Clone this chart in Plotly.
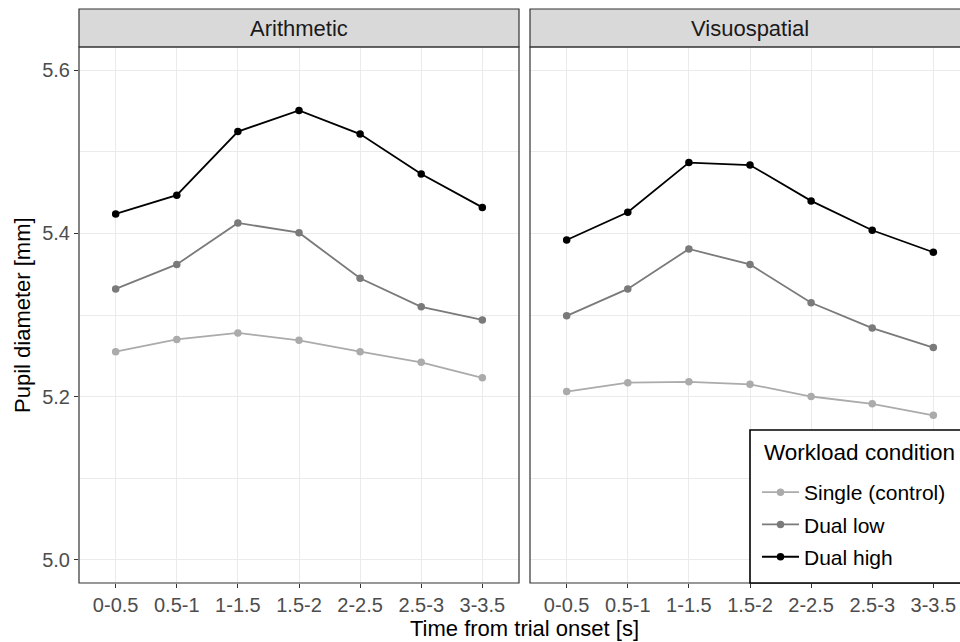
import plotly.graph_objects as go

time_bins = ["0-0.5", "0.5-1", "1-1.5", "1.5-2", "2-2.5", "2.5-3", "3-3.5"]
tasks = ["Arithmetic", "Visuospatial"]
conditions = ["Single (control)", "Dual low", "Dual high"]

arith_single = [5.255, 5.270, 5.278, 5.269, 5.255, 5.242, 5.223]
arith_dual_low = [5.332, 5.362, 5.413, 5.401, 5.345, 5.310, 5.294]
arith_dual_high = [5.424, 5.447, 5.525, 5.551, 5.522, 5.473, 5.432]
visuo_single = [5.206, 5.217, 5.218, 5.215, 5.200, 5.191, 5.177]
visuo_dual_low = [5.299, 5.332, 5.381, 5.362, 5.315, 5.284, 5.260]
visuo_dual_high = [5.392, 5.426, 5.487, 5.484, 5.440, 5.404, 5.377]

y_ticks = [5.0, 5.2, 5.4, 5.6]
y_tick_labels = ["5.0", "5.2", "5.4", "5.6"]
legend_title = "Workload condition"

colors = {"Single (control)": "#ababab", "Dual low": "#7a7a7a", "Dual high": "#000000"}

W, H = 960, 642
FONT = "Liberation Sans, Arial, sans-serif"


def fx(p):
    return p / W


def fy(p):
    return 1 - p / H


panel_top, panel_bot = 47, 583
strip_top = 9
left_x0, left_x1 = 79, 519
right_x0, right_x1 = 530, 970

fig = go.Figure()

series = {
    "Arithmetic": [arith_single, arith_dual_low, arith_dual_high],
    "Visuospatial": [visuo_single, visuo_dual_low, visuo_dual_high],
}

for ti, task in enumerate(tasks):
    xa = "x" if ti == 0 else "x2"
    ya = "y" if ti == 0 else "y2"
    for cond, vals in zip(conditions, series[task]):
        fig.add_trace(go.Scatter(
            x=time_bins, y=vals, mode="lines+markers", name=cond,
            legendgroup=cond, showlegend=(ti == 0),
            line=dict(color=colors[cond], width=1.8),
            marker=dict(color=colors[cond], size=7.5),
            xaxis=xa, yaxis=ya,
        ))

grid_col = "#ebebeb"
common_x = dict(
    type="category", categoryorder="array", categoryarray=time_bins,
    showgrid=True, gridcolor=grid_col, gridwidth=1.3,
    ticks="outside", ticklen=4, tickwidth=1.1, tickcolor="#333333",
    tickfont=dict(family=FONT, size=20, color="#4d4d4d"),
    showline=False, zeroline=False,
)
common_y = dict(
    range=[4.9712, 5.6288], tickvals=y_ticks, ticktext=y_tick_labels,
    showgrid=True, gridcolor=grid_col, gridwidth=1.3,
    minor=dict(dtick=0.1, tick0=5.0, showgrid=True, gridcolor=grid_col, gridwidth=0.7, ticks=""),
    zeroline=False, showline=False,
    domain=[fy(panel_bot), fy(panel_top)],
)

fig.update_layout(
    width=W, height=H,
    margin=dict(l=0, r=0, t=0, b=0, autoexpand=False),
    paper_bgcolor="white", plot_bgcolor="white",
    xaxis=dict(domain=[fx(left_x0), fx(left_x1)], anchor="y", range=[-0.6, 6.6], **common_x),
    xaxis2=dict(domain=[fx(right_x0), 1.0], anchor="y2",
                range=[-0.6, -0.6 + 7.2 * (W - right_x0) / (right_x1 - right_x0)], **common_x),
    yaxis=dict(anchor="x", ticks="outside", ticklen=4, tickwidth=1.1, tickcolor="#333333",
               tickfont=dict(family=FONT, size=20, color="#4d4d4d"), **common_y),
    yaxis2=dict(anchor="x2", showticklabels=False, ticks="", **common_y),
    showlegend=True,
    legend=dict(
        x=fx(757), y=fy(472), xanchor="left", yanchor="top",
        bgcolor="rgba(0,0,0,0)", borderwidth=0, itemwidth=37,
        font=dict(family=FONT, size=21, color="#000000"),
        traceorder="grouped", tracegroupgap=2,
    ),
)

shapes = []
for x0, x1 in [(left_x0, left_x1), (right_x0, right_x1)]:
    shapes.append(dict(type="rect", xref="paper", yref="paper",
                       x0=fx(x0), x1=fx(x1), y0=fy(panel_top), y1=fy(strip_top),
                       fillcolor="#d9d9d9", line=dict(color="#333333", width=1.2), layer="above"))
    shapes.append(dict(type="rect", xref="paper", yref="paper",
                       x0=fx(x0), x1=fx(x1), y0=fy(panel_bot), y1=fy(panel_top),
                       fillcolor="rgba(0,0,0,0)", line=dict(color="#333333", width=1.2), layer="above"))
# legend box
shapes.append(dict(type="rect", xref="paper", yref="paper",
                   x0=fx(750), x1=fx(975), y0=fy(583), y1=fy(430),
                   fillcolor="white", line=dict(color="#000000", width=1.6), layer="above"))
fig.update_layout(shapes=shapes)

annotations = [
    dict(text=tasks[0], x=fx((left_x0 + left_x1) / 2), y=fy((strip_top + panel_top) / 2),
         xref="paper", yref="paper", showarrow=False, xanchor="center", yanchor="middle",
         font=dict(family=FONT, size=22, color="#1a1a1a")),
    dict(text=tasks[1], x=fx((right_x0 + right_x1) / 2), y=fy((strip_top + panel_top) / 2),
         xref="paper", yref="paper", showarrow=False, xanchor="center", yanchor="middle",
         font=dict(family=FONT, size=22, color="#1a1a1a")),
    dict(text="Time from trial onset [s]", x=fx((left_x0 + right_x1) / 2), y=fy(628),
         xref="paper", yref="paper", showarrow=False, xanchor="center", yanchor="middle",
         font=dict(family=FONT, size=22, color="#000000")),
    dict(text="Pupil diameter [mm]", x=fx(22), y=fy((panel_top + panel_bot) / 2),
         xref="paper", yref="paper", showarrow=False, xanchor="center", yanchor="middle",
         textangle=-90, font=dict(family=FONT, size=22, color="#000000")),
    dict(text=legend_title, x=fx(762), y=fy(452),
         xref="paper", yref="paper", showarrow=False, xanchor="left", yanchor="middle",
         font=dict(family=FONT, size=22.5, color="#000000")),
]
fig.update_layout(annotations=annotations)

fig.write_html("out.html", post_script="document.body.style.margin='0';",
               config={"displayModeBar": False})
